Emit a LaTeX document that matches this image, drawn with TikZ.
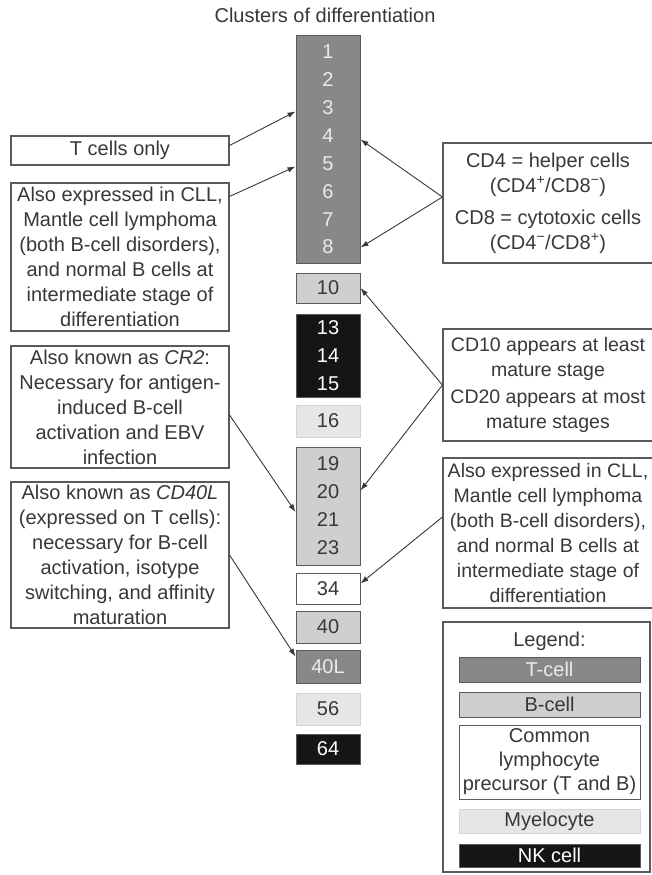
\documentclass[tikz,border=0pt]{standalone}
\usepackage{fontspec}
\setmainfont{Liberation Sans}
\usetikzlibrary{arrows.meta}
\definecolor{tcell}{HTML}{888888}
\definecolor{bcell}{HTML}{CFCFCF}
\definecolor{myelo}{HTML}{E6E6E6}
\definecolor{nkcell}{HTML}{151515}
\definecolor{edge}{HTML}{5A5A5A}
\definecolor{ink}{HTML}{383838}
\begin{document}
\begin{tikzpicture}[x=1pt, y=-1pt,
        every node/.style={font=\fontsize{20}{25}\selectfont, text=ink, align=center, inner sep=0pt},
        note/.style={draw=edge, line width=1.1pt, fill=white, minimum width=218pt},
        rnote/.style={draw=edge, line width=1.1pt, fill=white, minimum width=210pt},
        cd/.style={draw=edge, line width=1pt, minimum width=64pt},
        tcd/.style={cd, fill=tcell, text=white!92!black},
        bcd/.style={cd, fill=bcell},
        ccd/.style={cd, fill=white},
        mcd/.style={cd, draw=myelo!92!black, fill=myelo},
        nkcd/.style={cd, fill=nkcell, text=white},
        legendbar/.style={minimum width=181pt},
        pointer/.style={draw=ink, line width=0.9pt, -{Latex[length=8pt,width=5.5pt]}}]
        \pgfmathsetmacro{\colx}{328};
        \pgfmathsetmacro{\lx}{120};
        \pgfmathsetmacro{\rx}{548};
        \pgfmathsetmacro{\kx}{549.5};
        \fill [white] (0,0) rectangle (651,875);
        \useasboundingbox (0,0) rectangle (651,875);
        \node (title) at (325, 15) {Clusters of differentiation};
        \node [tcd, minimum height=227pt, font=\fontsize{20}{27.9}\selectfont] (cdT) at (\colx, 149.5) {1\\2\\3\\4\\5\\6\\7\\8};
        \node [bcd, minimum height=30pt] (cdten) at (\colx, 288) {10};
        \node [nkcd, minimum height=83pt, font=\fontsize{20}{28}\selectfont] (cdNK) at (\colx, 355.5) {13\\14\\15};
        \node [mcd, minimum height=32pt] (cdsixteen) at (\colx, 421) {16};
        \node [bcd, minimum height=118pt, font=\fontsize{20}{28}\selectfont] (cdB) at (\colx, 506) {19\\20\\21\\23};
        \node [ccd, minimum height=31pt] (cdthirtyfour) at (\colx, 588.5) {34};
        \node [bcd, minimum height=32pt] (cdforty) at (\colx, 627) {40};
        \node [tcd, minimum height=33pt] (cdfortyL) at (\colx, 666.5) {40L};
        \node [mcd, minimum height=32pt] (cdfiftysix) at (\colx, 709) {56};
        \node [nkcd, minimum height=30pt] (cdsixtyfour) at (\colx, 749) {64};
        \node [note, minimum height=29pt] (lonly) at (\lx, 150.5) {T cells only};
        \node [note, minimum height=148pt] (lcll) at (\lx, 257) {Also expressed in CLL,\\Mantle cell lymphoma\\(both B-cell disorders),\\and normal B cells at\\intermediate stage of\\differentiation};
        \node [note, minimum height=122pt] (lcr) at (\lx, 407) {Also known as \textit{CR2}:\\Necessary for antigen-\\induced B-cell\\activation and EBV\\infection};
        \node [note, minimum height=146pt] (lcd40) at (\lx, 555) {Also known as \textit{CD40L}\\(expressed on T cells):\\necessary for B-cell\\activation, isotype\\switching, and affinity\\maturation};
        \node [rnote, minimum height=120pt] (rcd4) at (\rx, 203) {CD4 = helper cells\\(CD4\textsuperscript{+}/CD8\textsuperscript{−})\\[7pt]CD8 = cytotoxic cells\\(CD4\textsuperscript{−}/CD8\textsuperscript{+})};
        \node [rnote, minimum height=112pt, font=\fontsize{19.5}{25}\selectfont] (rcd10) at (\rx, 385) {CD10 appears at least\\mature stage\\[2pt]CD20 appears at most\\mature stages};
        \node [rnote, minimum height=150pt, font=\fontsize{19.5}{25}\selectfont] (rcll) at (\rx, 533) {Also expressed in CLL,\\Mantle cell lymphoma\\(both B-cell disorders),\\and normal B cells at\\intermediate stage of\\differentiation};
        \node [rnote, minimum width=207pt, minimum height=250pt] (legend) at (546.5, 747) {};
        \node (lgtitle) at (\kx, 641) {Legend:};
        \node [tcd, legendbar, minimum height=25pt] (lgT) at (\kx, 669.5) {T-cell};
        \node [bcd, legendbar, minimum height=25pt] (lgB) at (\kx, 704.5) {B-cell};
        \node [ccd, legendbar, minimum height=74pt, font=\fontsize{20}{24}\selectfont] (lgC) at (\kx, 762) {Common\\lymphocyte\\precursor (T and B)};
        \node [mcd, legendbar, minimum height=24pt] (lgM) at (\kx, 821) {Myelocyte};
        \node [nkcd, legendbar, minimum height=23pt] (lgNK) at (\kx, 855.5) {NK cell};
        \draw [pointer] ([yshift=5pt]lonly.east) -- ([yshift=-76pt]cdT.north west);
        \draw [pointer] ([yshift=-14pt]lcll.north east) -- ([yshift=-131pt]cdT.north west);
        \draw [pointer] ([yshift=6pt]rcd4.west) -- ([yshift=-104pt]cdT.north east);
        \draw [pointer] ([yshift=6pt]rcd4.west) -- ([yshift=-212pt]cdT.north east);
        \draw [pointer] (rcd10.west) -- (cdten.east);
        \draw [pointer] (rcd10.west) -- ([yshift=-44pt]cdB.north east);
        \draw [pointer] ([yshift=16pt]rcll.west) -- ([yshift=5pt]cdthirtyfour.east);
        \draw [pointer] ([yshift=-8pt]lcr.east) -- ([yshift=-6pt]cdB.west);
        \draw [pointer] (lcd40.east) -- ([yshift=-7pt]cdfortyL.north west);
\end{tikzpicture}
\end{document}
